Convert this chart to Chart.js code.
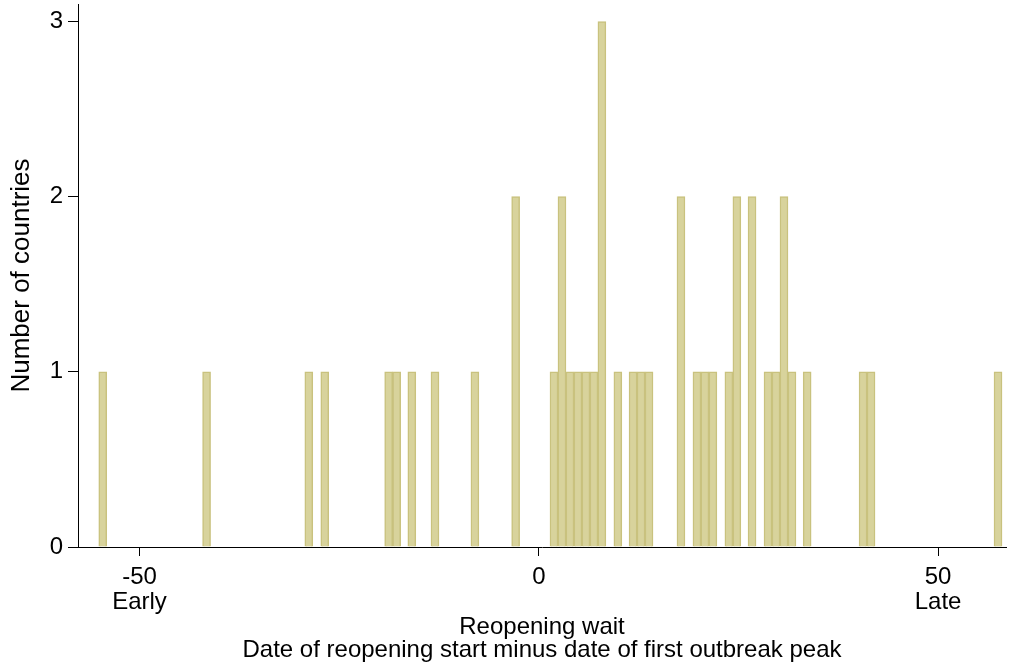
<!DOCTYPE html>
<html>
<head>
<meta charset="utf-8">
<script src="https://cdn.jsdelivr.net/npm/chart.js@4"></script>
<style>
  html, body { margin: 0; padding: 0; background: #fff; }
</style>
</head>
<body>
<canvas id="waitHist" width="1010" height="667"></canvas>
<script>
// reopening wait (days), one bar per bin
const waitDays = [
  -54.6, -41.6, -28.8, -26.8, -18.8, -17.8, -15.9, -13.0, -8.0, -2.9,
  1.9, 2.9, 3.9, 4.9, 5.9, 6.9, 7.9, 9.9, 11.8, 12.8, 13.8,
  17.8, 19.8, 20.8, 21.8, 23.8, 24.8, 26.7, 28.7, 29.7, 30.7, 31.7,
  33.6, 40.6, 41.6, 57.5
];
const countryCounts = [
  1, 1, 1, 1, 1, 1, 1, 1, 1, 2,
  1, 2, 1, 1, 1, 1, 3, 1, 1, 1, 1,
  2, 1, 1, 1, 1, 2, 2, 1, 1, 2, 1,
  1, 1, 1, 1
];
const xTickValues = [-50, 0, 50];
const xTickNotes = ['Early', '', 'Late'];
const yTickValues = [0, 1, 2, 3];

const FONT = "'Liberation Sans', Arial, sans-serif";

new Chart(document.getElementById('waitHist'), {
  type: 'bar',
  data: {
    datasets: [{
      data: waitDays.map((d, i) => ({ x: d, y: countryCounts[i] })),
      backgroundColor: 'rgb(216, 211, 156)',
      borderColor: 'rgb(201, 194, 126)',
      borderWidth: 1.5,
      barPercentage: 1,
      categoryPercentage: 1
    }]
  },
  options: {
    responsive: false,
    animation: false,
    layout: { padding: { top: 4, right: 4, left: 0, bottom: 0 } },
    plugins: { legend: { display: false }, tooltip: { enabled: false } },
    scales: {
      x: {
        type: 'linear',
        offset: false,
        min: -57.7,
        max: 58.5,
        afterBuildTicks: (s) => { s.ticks = xTickValues.map(v => ({ value: v })); },
        afterFit: (s) => { s.height = 120; s.paddingLeft = 0; s.paddingRight = 0; },
        grid: { display: true, offset: false, drawOnChartArea: false, drawTicks: true, tickLength: 9, color: '#000', lineWidth: 1 },
        border: { display: true, color: '#000', width: 1 },
        ticks: {
          padding: 9,
          maxRotation: 0,
          autoSkip: false,
          color: '#000',
          font: { family: FONT, size: 24, lineHeight: 1.05 },
          callback: (v) => {
            const note = xTickNotes[xTickValues.indexOf(v)];
            return note ? [String(v), note] : String(v);
          }
        },
        title: {
          display: true,
          text: ['Reopening wait', 'Date of reopening start minus date of first outbreak peak'],
          color: '#000',
          font: { family: FONT, size: 24, lineHeight: 0.96 },
          padding: { top: 0, bottom: 5 }
        }
      },
      y: {
        min: 0,
        max: 3.1,
        afterBuildTicks: (s) => { s.ticks = yTickValues.map(v => ({ value: v })); },
        afterFit: (s) => { s.width = 78; s.paddingTop = 0; s.paddingBottom = 0; },
        grid: { display: true, drawOnChartArea: false, drawTicks: true, tickLength: 10, color: '#000', lineWidth: 1 },
        border: { display: true, color: '#000', width: 1 },
        ticks: {
          padding: 5,
          color: '#000',
          font: { family: FONT, size: 24 }
        },
        title: {
          display: true,
          text: 'Number of countries',
          color: '#000',
          font: { family: FONT, size: 26, lineHeight: 1 },
          padding: { top: 9, bottom: 0 }
        }
      }
    }
  }
});
</script>
</body>
</html>
